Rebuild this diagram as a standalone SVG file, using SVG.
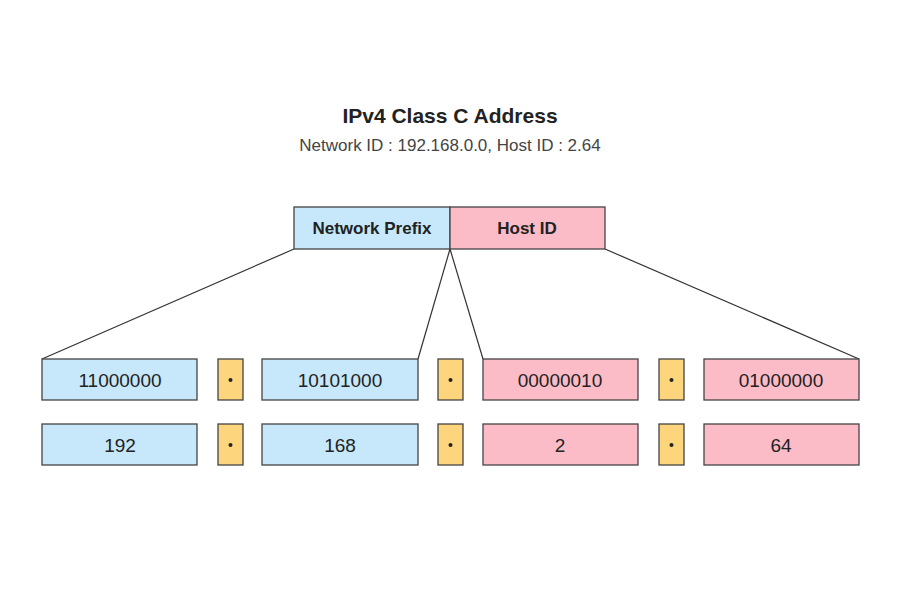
<svg xmlns="http://www.w3.org/2000/svg" width="900" height="600" viewBox="0 0 900 600">
<style>
text{font-family:"Liberation Sans",Arial,sans-serif;fill:#222;text-anchor:middle;dominant-baseline:central}
.b{fill:#c6e8fa;stroke:#444;stroke-width:1.3}
.p{fill:#fbbcc8;stroke:#444;stroke-width:1.3}
.y{fill:#fcd57c;stroke:#444;stroke-width:1.3}
.v{font-size:19px}
.d{font-size:18px;font-weight:bold}
.ln{stroke:#333;stroke-width:1.2;fill:none}
</style>
<rect width="900" height="600" fill="#fff"/>
<text x="450" y="115" font-size="21" font-weight="bold">IPv4 Class C Address</text>
<text x="450" y="145" font-size="17" fill="#444" style="fill:#444">Network ID : 192.168.0.0, Host ID : 2.64</text>
<g id="connectors">
<line class="ln" x1="294" y1="249" x2="42" y2="359"/>
<line class="ln" x1="450" y1="249" x2="418" y2="359"/>
<line class="ln" x1="450" y1="249" x2="483" y2="359"/>
<line class="ln" x1="605" y1="249" x2="859" y2="359"/>
</g>
<g id="netprefix"><rect class="b" x="294" y="207" width="156" height="42"/><text x="372" y="228" font-size="17" font-weight="bold">Network Prefix</text></g>
<g id="hostid"><rect class="p" x="450" y="207" width="155" height="42"/><text x="527" y="228" font-size="17" font-weight="bold">Host ID</text></g>
<g id="b1"><rect class="b" x="42" y="359" width="155" height="41"/><text class="v" x="120" y="380">11000000</text></g>
<g id="b2"><rect class="b" x="262" y="359" width="156" height="41"/><text class="v" x="340" y="380">10101000</text></g>
<g id="b3"><rect class="p" x="483" y="359" width="155" height="41"/><text class="v" x="560" y="380">00000010</text></g>
<g id="b4"><rect class="p" x="704" y="359" width="155" height="41"/><text class="v" x="781" y="380">01000000</text></g>
<g id="c1"><rect class="b" x="42" y="424" width="155" height="41"/><text class="v" x="120" y="445">192</text></g>
<g id="c2"><rect class="b" x="262" y="424" width="156" height="41"/><text class="v" x="340" y="445">168</text></g>
<g id="c3"><rect class="p" x="483" y="424" width="155" height="41"/><text class="v" x="560" y="445">2</text></g>
<g id="c4"><rect class="p" x="704" y="424" width="155" height="41"/><text class="v" x="781" y="445">64</text></g>
<g id="dots">
<rect class="y" x="218" y="359" width="25" height="41"/><circle cx="230.5" cy="380" r="2" fill="#222"/>
<rect class="y" x="438" y="359" width="25" height="41"/><circle cx="450.5" cy="380" r="2" fill="#222"/>
<rect class="y" x="659" y="359" width="25" height="41"/><circle cx="671.5" cy="380" r="2" fill="#222"/>
<rect class="y" x="218" y="424" width="25" height="41"/><circle cx="230.5" cy="445" r="2" fill="#222"/>
<rect class="y" x="438" y="424" width="25" height="41"/><circle cx="450.5" cy="445" r="2" fill="#222"/>
<rect class="y" x="659" y="424" width="25" height="41"/><circle cx="671.5" cy="445" r="2" fill="#222"/>
</g>
</svg>
